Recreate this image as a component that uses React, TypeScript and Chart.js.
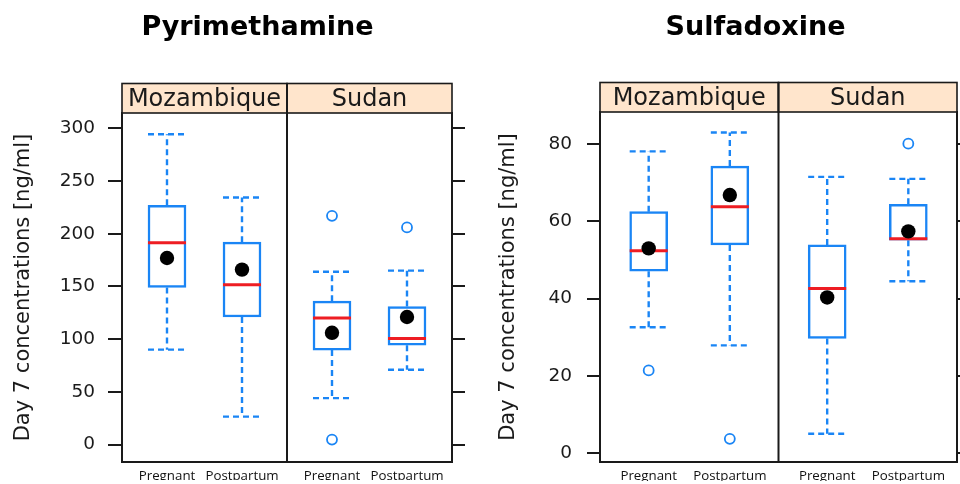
import React, { useEffect, useRef } from 'react';
import { Chart, registerables } from 'chart.js';

Chart.register(...registerables);

// ---- categories ----
const SITES = ['Mozambique', 'Sudan'];
const GROUPS = ['Pregnant', 'Postpartum'];
const X_LABELS = SITES.flatMap(() => GROUPS);

// ---- Pyrimethamine (order: Moz-Pregnant, Moz-Postpartum, Sudan-Pregnant, Sudan-Postpartum) ----
const PYR_LOWER = [90, 26.5, 44, 71];
const PYR_Q1 = [149, 121, 89.6, 94.3];
const PYR_MEDIAN = [191.5, 151.5, 120, 100.6];
const PYR_Q3 = [227, 192, 136, 131];
const PYR_UPPER = [294.4, 234.4, 164, 165];
const PYR_MEAN = [177, 166, 106, 121];
const PYR_OUTLIERS = [[], [], [217, 4.7], [206]];
const PYR_TICKS = [0, 50, 100, 150, 200, 250, 300];
const PYR_RANGE = [-16.6, 314.6];

// ---- Sulfadoxine ----
const SUL_LOWER = [32.6, 27.9, 5, 44.5];
const SUL_Q1 = [47.1, 53.9, 29.7, 55.1];
const SUL_MEDIAN = [52.4, 63.8, 42.6, 55.5];
const SUL_Q3 = [62.5, 74.3, 53.9, 64.4];
const SUL_UPPER = [78.1, 83, 71.5, 71];
const SUL_MEAN = [53, 66.8, 40.3, 57.4];
const SUL_OUTLIERS = [[21.4], [3.7], [], [80.1]];
const SUL_TICKS = [0, 20, 40, 60, 80];
const SUL_RANGE = [-2.3, 88.3];

const Y_TITLE = 'Day 7 concentrations [ng/ml]';

// ---- styling ----
const BLUE = '#1a85f5';
const RED = '#ee1d23';
const STRIP_BG = '#ffe5cc';
const INK = '#1a1a1a';
const BOX_W = 38;
const STRIP_H = 29.5;
const X_MIN = 0.4;
const SITE_SPAN = 2.2;
const X_MAX = X_MIN + SITE_SPAN * SITES.length;

const xPos = (i: number) =>
  1 + Math.floor(i / GROUPS.length) * SITE_SPAN + (i % GROUPS.length);
const POSITIONS = X_LABELS.map((_, i) => xPos(i));

type Panel = {
  title: string;
  lower: number[];
  q1: number[];
  median: number[];
  q3: number[];
  upper: number[];
  mean: number[];
  outliers: number[][];
  ticks: number[];
  range: number[];
  left: number;
  width: number;
  titleX: number;
  yAxisWidth: number;
  rightAxisWidth: number;
  top: number;
  xAxisHeight: number;
  tickLength: number;
  tickPadding: number;
  titlePad: number;
};

const PANELS: Panel[] = [
  {
    title: 'Pyrimethamine',
    lower: PYR_LOWER, q1: PYR_Q1, median: PYR_MEDIAN, q3: PYR_Q3, upper: PYR_UPPER,
    mean: PYR_MEAN, outliers: PYR_OUTLIERS, ticks: PYR_TICKS, range: PYR_RANGE,
    left: 0, width: 480, titleX: 257.5, yAxisWidth: 122, rightAxisWidth: 28, top: 113,
    xAxisHeight: 18, tickLength: 14, tickPadding: 13, titlePad: 10.7,
  },
  {
    title: 'Sulfadoxine',
    lower: SUL_LOWER, q1: SUL_Q1, median: SUL_MEDIAN, q3: SUL_Q3, upper: SUL_UPPER,
    mean: SUL_MEAN, outliers: SUL_OUTLIERS, ticks: SUL_TICKS, range: SUL_RANGE,
    left: 480, width: 500, titleX: 275.5, yAxisWidth: 120, rightAxisWidth: 23, top: 112,
    xAxisHeight: 19, tickLength: 13, tickPadding: 15, titlePad: 16.4,
  },
];

function makePlugin(p: Panel) {
  return {
    id: 'boxExtras',
    beforeDatasetsDraw(chart: any) {
      const { ctx, scales } = chart;
      const x = scales.x;
      const y = scales.y;
      ctx.save();
      ctx.strokeStyle = BLUE;
      ctx.lineWidth = 2.4;
      ctx.setLineDash([6, 4]);
      p.q1.forEach((_, i) => {
        const cx = x.getPixelForValue(POSITIONS[i]);
        const seg = (a: number, b: number) => {
          ctx.beginPath();
          ctx.moveTo(cx, y.getPixelForValue(a));
          ctx.lineTo(cx, y.getPixelForValue(b));
          ctx.stroke();
        };
        seg(p.q3[i], p.upper[i]);
        seg(p.q1[i], p.lower[i]);
        [p.upper[i], p.lower[i]].forEach((v) => {
          const py = y.getPixelForValue(v);
          ctx.beginPath();
          ctx.moveTo(cx - BOX_W / 2, py);
          ctx.lineTo(cx + BOX_W / 2, py);
          ctx.stroke();
        });
      });
      ctx.restore();
    },
    afterDraw(chart: any) {
      const { ctx, chartArea, scales } = chart;
      const x = scales.x;
      const top = chartArea.top - STRIP_H;
      ctx.save();
      SITES.forEach((site, s) => {
        const xl = x.getPixelForValue(X_MIN + s * SITE_SPAN);
        const xr = x.getPixelForValue(X_MIN + (s + 1) * SITE_SPAN);
        ctx.fillStyle = STRIP_BG;
        ctx.fillRect(xl, top, xr - xl, STRIP_H);
        ctx.strokeStyle = INK;
        ctx.lineWidth = 1.6;
        ctx.strokeRect(xl, top, xr - xl, STRIP_H);
        ctx.fillStyle = INK;
        ctx.font = '24px "DejaVu Sans"';
        ctx.textAlign = 'center';
        ctx.textBaseline = 'middle';
        ctx.fillText(site, (xl + xr) / 2, top + STRIP_H / 2 + 1.5);
      });
      for (let s = 1; s < SITES.length; s++) {
        const xd = x.getPixelForValue(X_MIN + s * SITE_SPAN);
        ctx.beginPath();
        ctx.strokeStyle = INK;
        ctx.lineWidth = 2;
        ctx.moveTo(xd, top);
        ctx.lineTo(xd, chartArea.bottom);
        ctx.stroke();
      }
      ctx.fillStyle = '#000';
      ctx.font = 'bold 27px "DejaVu Sans"';
      ctx.textAlign = 'center';
      ctx.textBaseline = 'alphabetic';
      ctx.fillText(p.title, p.titleX, 35);
      ctx.restore();
    },
  };
}

function PanelChart({ p }: { p: Panel }) {
  const ref = useRef<HTMLCanvasElement | null>(null);
  useEffect(() => {
    if (!ref.current) return;
    const setTicks = (vals: number[]) => (s: any) => {
      s.ticks = vals.map((v) => ({ value: v }));
    };
    const outlierPts: { x: number; y: number }[] = [];
    p.outliers.forEach((arr, i) => arr.forEach((v) => outlierPts.push({ x: POSITIONS[i], y: v })));

    const chart = new Chart(ref.current, {
      type: 'scatter',
      data: {
        datasets: [
          {
            type: 'bar',
            data: p.q1.map((v, i) => ({ x: POSITIONS[i], y: [v, p.q3[i]] })) as any,
            backgroundColor: '#ffffff',
            borderColor: BLUE,
            borderWidth: 2.5,
            borderSkipped: false,
            barThickness: BOX_W,
            order: 5,
          } as any,
          {
            type: 'scatter',
            data: p.median.map((v, i) => ({ x: POSITIONS[i], y: v })),
            pointStyle: 'line',
            pointRadius: BOX_W / 2,
            borderColor: RED,
            borderWidth: 3,
            order: 2,
          } as any,
          {
            type: 'scatter',
            data: outlierPts,
            pointStyle: 'circle',
            pointRadius: 5,
            backgroundColor: 'rgba(0,0,0,0)',
            borderColor: BLUE,
            borderWidth: 1.8,
            order: 3,
          } as any,
          {
            type: 'scatter',
            data: p.mean.map((v, i) => ({ x: POSITIONS[i], y: v })),
            pointStyle: 'circle',
            pointRadius: 7.2,
            backgroundColor: '#000',
            borderColor: '#000',
            borderWidth: 0,
            order: 1,
          } as any,
        ],
      },
      options: {
        animation: false,
        responsive: false,
        events: [],
        layout: { padding: { top: p.top, left: 0, right: 0, bottom: 0 } },
        plugins: { legend: { display: false }, tooltip: { enabled: false }, title: { display: false } },
        scales: {
          x: {
            type: 'linear',
            position: 'bottom',
            min: X_MIN,
            max: X_MAX,
            offset: false,
            afterBuildTicks: setTicks(POSITIONS),
            afterFit: (s: any) => {
              s.height = p.xAxisHeight;
              s.paddingLeft = 0;
              s.paddingRight = 0;
            },
            ticks: {
              autoSkip: false,
              maxRotation: 0,
              minRotation: 0,
              callback: (_v: any, i: number) => X_LABELS[i],
              font: { family: '"Open Sans"', size: 13.3 },
              color: '#111',
              padding: 6,
            },
            grid: { display: false, drawTicks: false, tickLength: 0 },
            border: { display: true, color: INK, width: 2 },
          },
          y: {
            type: 'linear',
            position: 'left',
            min: p.range[0],
            max: p.range[1],
            afterBuildTicks: setTicks(p.ticks),
            afterFit: (s: any) => {
              s.width = p.yAxisWidth;
              s.paddingTop = 0;
              s.paddingBottom = 0;
            },
            ticks: {
              autoSkip: false,
              callback: (v: any) => String(v),
              font: { family: 'DejaVu Sans', size: 18.5 },
              color: INK,
              padding: p.tickPadding,
            },
            grid: {
              display: true,
              drawOnChartArea: false,
              drawTicks: true,
              tickLength: p.tickLength,
              color: INK,
              lineWidth: 2,
            },
            border: { display: true, color: INK, width: 2 },
            title: {
              display: true,
              text: Y_TITLE,
              font: { family: 'DejaVu Sans', size: 21 },
              color: INK,
              padding: { top: p.titlePad, bottom: 0 },
            },
          },
          y2: {
            type: 'linear',
            position: 'right',
            min: p.range[0],
            max: p.range[1],
            afterBuildTicks: setTicks(p.ticks),
            afterFit: (s: any) => {
              s.width = p.rightAxisWidth;
              s.paddingTop = 0;
              s.paddingBottom = 0;
            },
            ticks: { display: false },
            grid: {
              display: true,
              drawOnChartArea: false,
              drawTicks: true,
              tickLength: 13,
              color: INK,
              lineWidth: 2,
            },
            border: { display: true, color: INK, width: 2 },
          },
        },
      } as any,
      plugins: [makePlugin(p)],
    });
    return () => chart.destroy();
  }, [p]);

  return (
    <div style={{ position: 'absolute', left: p.left, top: 0, width: p.width, height: 484 }}>
      <canvas ref={ref} width={p.width} height={484} style={{ width: p.width, height: 484, display: 'block' }} />
    </div>
  );
}

export default function App() {
  return (
    <div
      style={{
        position: 'fixed',
        left: 0,
        top: 0,
        width: 960,
        height: 484,
        background: '#ffffff',
        overflow: 'hidden',
      }}
    >
      {PANELS.map((p) => (
        <PanelChart key={p.title} p={p} />
      ))}
    </div>
  );
}
